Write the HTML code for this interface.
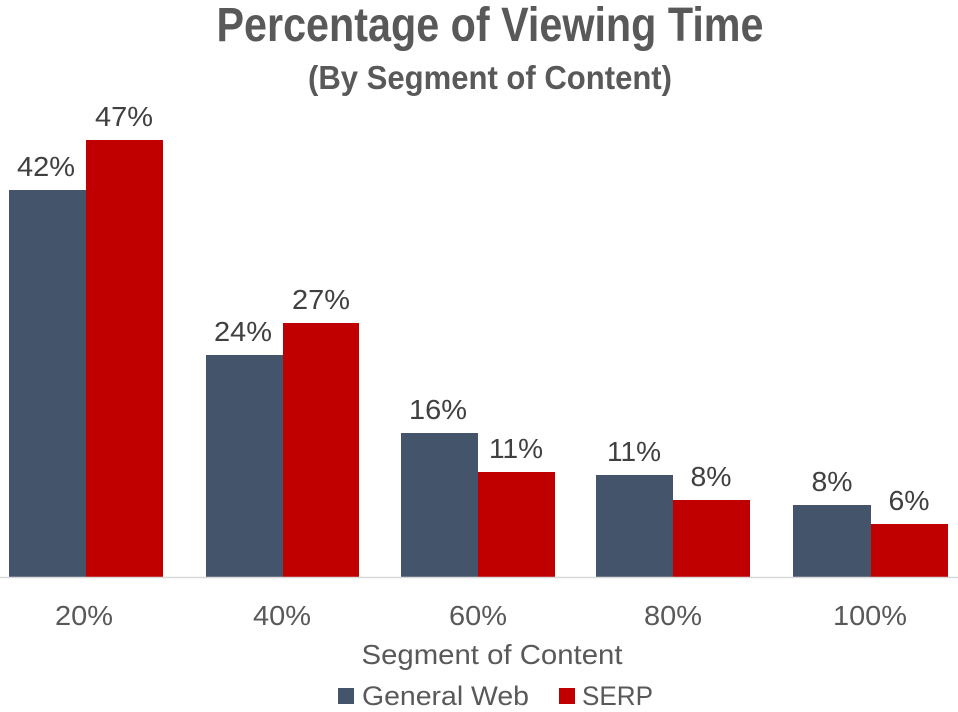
<!DOCTYPE html>
<html><head><meta charset="utf-8"><style>
html,body{margin:0;padding:0;background:#fff;}
svg{display:block;}
text{font-family:"Liberation Sans",sans-serif;}
</style></head><body>
<svg width="958" height="712" viewBox="0 0 958 712">
<text x="490" y="41" text-anchor="middle" font-size="48" font-weight="bold" fill="#595959" textLength="547" lengthAdjust="spacingAndGlyphs">Percentage of Viewing Time</text>
<text x="490" y="89" text-anchor="middle" font-size="33" font-weight="bold" fill="#595959" textLength="364" lengthAdjust="spacingAndGlyphs">(By Segment of Content)</text>
<g fill="#44546a">
<rect x="9" y="190" width="77" height="387"/>
<rect x="206" y="355" width="77" height="222"/>
<rect x="401" y="433" width="77" height="144"/>
<rect x="596" y="475" width="77" height="102"/>
<rect x="793" y="505" width="78" height="72"/>
</g>
<g fill="#c00000">
<rect x="86" y="140" width="77" height="437"/>
<rect x="283" y="323" width="76" height="254"/>
<rect x="478" y="472" width="77" height="105"/>
<rect x="673" y="500" width="77" height="77"/>
<rect x="871" y="524" width="77" height="53"/>
</g>
<line x1="0" y1="577.5" x2="958" y2="577.5" stroke="#d9d9d9" stroke-width="1.5"/>
<g font-size="28" fill="#404040" text-anchor="middle">
<text x="46" y="176" textLength="58" lengthAdjust="spacingAndGlyphs">42%</text>
<text x="124" y="126" textLength="58" lengthAdjust="spacingAndGlyphs">47%</text>
<text x="243" y="341" textLength="58" lengthAdjust="spacingAndGlyphs">24%</text>
<text x="321" y="309" textLength="58" lengthAdjust="spacingAndGlyphs">27%</text>
<text x="438" y="419" textLength="58" lengthAdjust="spacingAndGlyphs">16%</text>
<text x="516" y="458" textLength="54" lengthAdjust="spacingAndGlyphs">11%</text>
<text x="634" y="461" textLength="54" lengthAdjust="spacingAndGlyphs">11%</text>
<text x="711" y="486" textLength="41" lengthAdjust="spacingAndGlyphs">8%</text>
<text x="832" y="491" textLength="41" lengthAdjust="spacingAndGlyphs">8%</text>
<text x="909" y="510" textLength="41" lengthAdjust="spacingAndGlyphs">6%</text>
</g>
<g font-size="28" fill="#595959" text-anchor="middle">
<text x="84" y="625" textLength="58" lengthAdjust="spacingAndGlyphs">20%</text>
<text x="282" y="625" textLength="58" lengthAdjust="spacingAndGlyphs">40%</text>
<text x="478" y="625" textLength="58" lengthAdjust="spacingAndGlyphs">60%</text>
<text x="673" y="625" textLength="58" lengthAdjust="spacingAndGlyphs">80%</text>
<text x="870" y="625" textLength="74" lengthAdjust="spacingAndGlyphs">100%</text>
<text x="492" y="664" textLength="261" lengthAdjust="spacingAndGlyphs">Segment of Content</text>
</g>
<rect x="338" y="688" width="16" height="16" fill="#44546a"/>
<text x="362" y="705" font-size="27" fill="#595959" textLength="167" lengthAdjust="spacingAndGlyphs">General Web</text>
<rect x="559" y="688" width="16" height="16" fill="#c00000"/>
<text x="582" y="705" font-size="27" fill="#595959" textLength="71" lengthAdjust="spacingAndGlyphs">SERP</text>
</svg>
</body></html>
